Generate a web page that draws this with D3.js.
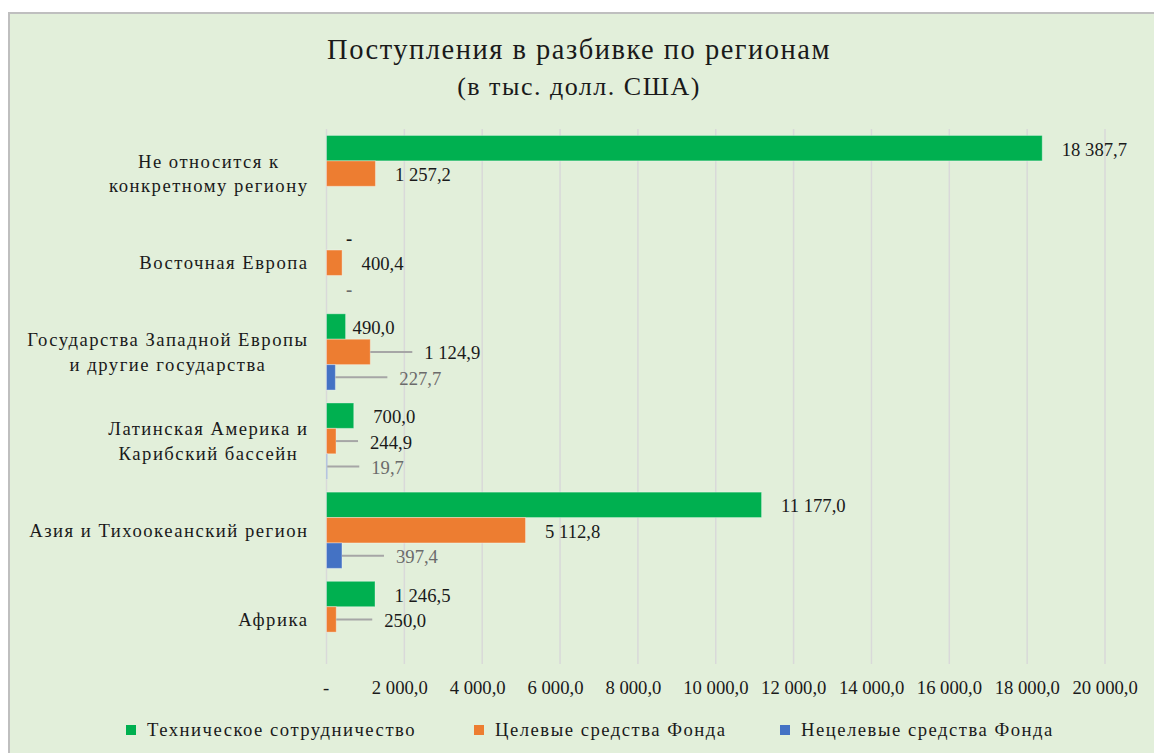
<!DOCTYPE html>
<html lang="ru">
<head>
<meta charset="utf-8">
<title>Поступления в разбивке по регионам</title>
<script src="https://cdn.jsdelivr.net/npm/d3@7"></script>
<style>
  body { margin: 0; background: #fff; }
  svg text { font-family: "Liberation Serif", "Times New Roman", "DejaVu Serif", serif; fill: #1a1a1a; }
  svg text.wide { letter-spacing: 1.5px; }
</style>
</head>
<body>
<script>
// data
var regions = [
  "Не относится к\nконкретному региону",
  "Восточная Европа",
  "Государства Западной Европы\nи другие государства",
  "Латинская Америка и\nКарибский бассейн",
  "Азия и Тихоокеанский регион",
  "Африка"
];
var seriesNames = ["Техническое сотрудничество", "Целевые средства Фонда", "Нецелевые средства Фонда"];
var technical   = [18387.7, 0, 490.0, 700.0, 11177.0, 1246.5];
var earmarked   = [1257.2, 400.4, 1124.9, 244.9, 5112.8, 250.0];
var unearmarked = [null, 0, 227.7, 19.7, 397.4, null];
var xTicks = [0, 2000, 4000, 6000, 8000, 10000, 12000, 14000, 16000, 18000, 20000];

// styles / layout
var colors = ["#00B050", "#ED7D31", "#4472C4"];
var labelColors = ["#1a1a1a", "#1a1a1a", "#6b6b6b"];
var w = 1154, h = 753;
var plotLeft = 326.5, plotRight = 1105, plotTop = 129, plotBottom = 664;
// labels that Excel moved away from the bar end (category index, series index -> dx)
var movedLabels = { "2-0": 7, "2-1": 54, "2-2": 64, "3-1": 34, "3-2": 44, "4-2": 54, "5-1": 48 };

var fmt = d3.formatLocale({ decimal: ",", thousands: " ", grouping: [3], currency: ["", ""] }).format(",.1f");
function label(v) { return v === 0 ? "-" : fmt(v); }

var svg = d3.select("body").append("svg")
  .attr("width", w)
  .attr("height", h);

svg.append("rect")
  .attr("x", 9).attr("y", 13)
  .attr("width", 1200).attr("height", 800)
  .attr("fill", "#E2EFDA")
  .attr("stroke", "#BFBFBF")
  .attr("stroke-width", 2);

// title
svg.append("text")
  .attr("class", "wide")
  .attr("x", 579).attr("y", 59)
  .attr("text-anchor", "middle")
  .style("font-size", "28.5px")
  .text("Поступления в разбивке по регионам");
svg.append("text")
  .attr("class", "wide")
  .attr("x", 579).attr("y", 95)
  .attr("text-anchor", "middle")
  .style("font-size", "26px")
  .text("(в тыс. долл. США)");

var xScale = d3.scaleLinear().domain([0, 20000]).range([plotLeft, plotRight]);
var yScale = d3.scaleBand()
  .domain(d3.range(regions.length))
  .range([plotTop, plotBottom])
  .paddingInner(0.145)
  .paddingOuter(0.0725);
var ySub = d3.scaleBand().domain([0, 1, 2]).range([0, yScale.bandwidth()]);

// gridlines
svg.append("g").selectAll("line")
  .data(xTicks)
  .enter().append("line")
  .attr("x1", function(d) { return xScale(d); })
  .attr("x2", function(d) { return xScale(d); })
  .attr("y1", plotTop).attr("y2", plotBottom)
  .attr("stroke", "#D9D9D9")
  .attr("stroke-width", 1.5);

// x axis
var xAxis = d3.axisBottom(xScale).tickValues(xTicks).tickSize(0).tickFormat(label);
var gx = svg.append("g")
  .attr("transform", "translate(0," + plotBottom + ")")
  .call(xAxis);
gx.select(".domain").remove();
gx.attr("font-family", null).attr("font-size", null);
gx.selectAll("text")
  .attr("fill", "#1a1a1a")
  .style("font-size", "18.67px")
  .attr("y", 30).attr("dy", 0)
  .attr("text-anchor", function(d) { return d === 0 ? "middle" : "start"; })
  .attr("x", function(d) { return d === 0 ? -1 : -33; });

// bars
var rows = regions.map(function(r, i) {
  return [technical[i], earmarked[i], unearmarked[i]];
});
var groups = svg.append("g").selectAll("g")
  .data(rows)
  .enter().append("g")
  .attr("transform", function(d, i) { return "translate(0," + yScale(i) + ")"; });

groups.selectAll("rect")
  .data(function(d) {
    return d.map(function(v, s) { return { v: v, s: s }; })
      .filter(function(e) { return e.v !== null && e.v > 0; });
  })
  .enter().append("rect")
  .attr("x", xScale(0))
  .attr("y", function(d) { return ySub(d.s); })
  .attr("width", function(d) { return xScale(d.v) - xScale(0); })
  .attr("height", ySub.bandwidth())
  .attr("fill", function(d) { return colors[d.s]; })
  .attr("stroke", "rgba(255,255,255,0.35)")
  .attr("stroke-width", 1);

// data labels with leader lines
groups.each(function(row, i) {
  var g = d3.select(this);
  row.forEach(function(v, s) {
    if (v === null) return;
    var key = i + "-" + s;
    var dx = movedLabels[key] !== undefined ? movedLabels[key] : 19.5;
    var x0 = xScale(v);
    var cy = ySub(s) + ySub.bandwidth() / 2;
    if (dx > 30) {
      g.append("line")
        .attr("x1", x0).attr("x2", x0 + dx - 12)
        .attr("y1", cy).attr("y2", cy)
        .attr("stroke", "#A6A6A6")
        .attr("stroke-width", 2);
    }
    g.append("text")
      .attr("x", x0 + dx)
      .attr("y", cy + 7.5)
      .style("font-size", "18.67px")
      .style("fill", labelColors[s])
      .style("font-weight", v === 0 ? "bold" : null)
      .text(label(v));
  });
});

// category labels: centred lines, block right-aligned at x = 307
regions.forEach(function(r, i) {
  var lines = r.split("\n");
  var cy = yScale(i) + yScale.bandwidth() / 2;
  var t = svg.append("text")
    .attr("class", "wide")
    .style("font-size", "18.67px")
    .attr("text-anchor", "middle");
  lines.forEach(function(line, k) {
    t.append("tspan")
      .attr("y", cy + 6.5 + (k - (lines.length - 1) / 2) * 24.5)
      .text(line);
  });
  var maxW = 0;
  t.selectAll("tspan").each(function() { maxW = Math.max(maxW, this.getComputedTextLength()); });
  t.selectAll("tspan").attr("x", 308.5 - maxW / 2);
});

// legend
var legendX = [126, 474, 780];
var legend = svg.append("g").selectAll("g")
  .data(seriesNames)
  .enter().append("g")
  .attr("transform", function(d, i) { return "translate(" + legendX[i] + ",725)"; });
legend.append("rect")
  .attr("width", 10).attr("height", 10)
  .attr("fill", function(d, i) { return colors[i]; });
legend.append("text")
  .attr("class", "wide")
  .attr("x", 21).attr("y", 11)
  .style("font-size", "18.67px")
  .text(function(d) { return d; });
</script>
</body>
</html>
